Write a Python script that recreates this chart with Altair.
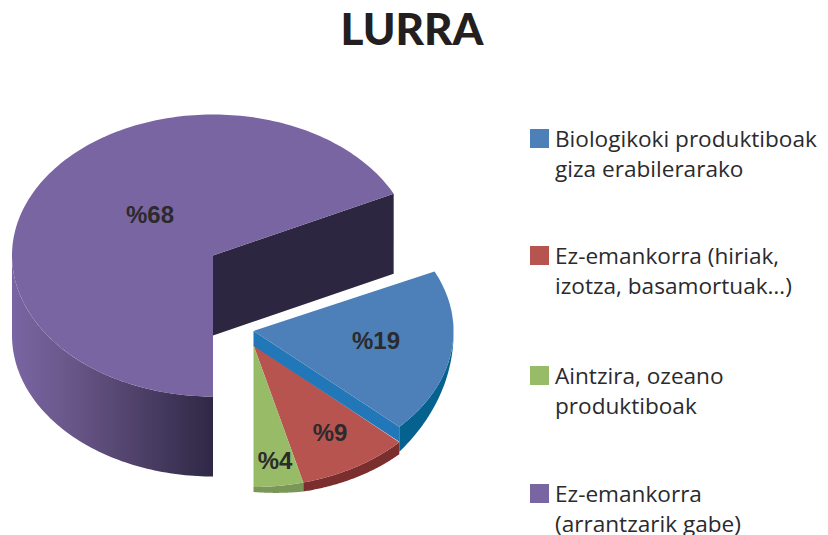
import math
import altair as alt

# ---- values ----
title = "LURRA"
shares = [68, 19, 9, 4]                     # purple, blue, red, green (clockwise from south)
value_labels = ["%68", "%19", "%9", "%4"]
top_colors = ["#7a65a3", "#4d80b8", "#b85450", "#98bb68"]
side_colors = ["#2f2845", "#05628f", "#7a2e2e", "#7a9658"]
wall_colors = ["#2d2640", "#2277b8"]
legend_lines = [
    ["Biologikoki produktiboak", "giza erabilerarako"],
    ["Ez-emankorra (hiriak,", "izotza, basamortuak…)"],
    ["Aintzira, ozeano", "produktiboak"],
    ["Ez-emankorra", "(arrantzarik gabe)"],
]
legend_order = [1, 2, 3, 0]
text_color = "#2b2a2c"

# pie geometry (page pixels)
RX, RY = 201, 141
BIG = (213, 255.5)
BIG_DEPTH = 80
SMALL = (253.5, 331)
SMALL_RY = 140
BAND = 14
SMALL_RY2 = 142
BLUE_DEPTH = (0, 25)
RED_DEPTH = (12, 9)
GREEN_DEPTH = (9, 5)
CUT_TWEAK = -0.8

# ---- geometry derived from the shares ----
def pt(c, rx, ry, a, dy=0):
    r = math.radians(a)
    return [c[0] - rx * math.sin(r), c[1] + ry * math.cos(r) + dy]

def arc(c, rx, ry, a0, a1, d0=0, d1=0, n=80):
    return [pt(c, rx, ry, a0 + (a1 - a0) * i / n, d0 + (d1 - d0) * i / n) for i in range(n + 1)]

def feat(coords, fill):
    ring = coords + [coords[0]]
    return {"type": "Feature", "properties": {"fill": fill},
            "geometry": {"type": "Polygon", "coordinates": [ring]}}

edges = [0]
for s in shares:
    edges.append(edges[-1] + s * 3.6)
a_p, a_b, a_r, a_g = edges[1], edges[2], edges[3], edges[4]
a_big = a_p + CUT_TWEAK

feats = []
# large slice: cut wall, then top
e = pt(BIG, RX, RY, a_big)
feats.append(feat([list(BIG), e, [e[0], e[1] + BIG_DEPTH], [BIG[0], BIG[1] + BIG_DEPTH]], wall_colors[0]))
big_side = arc(BIG, RX, RY, 0, 90) + arc(BIG, RX, RY, 90, 0, BIG_DEPTH, BIG_DEPTH)
big_top = [list(BIG)] + arc(BIG, RX, RY, 0, a_big, n=200)

# small slices
SMALL2 = (SMALL[0], SMALL[1] + BAND)
blue_start = a_b - 48
feats2 = []
feats2.append(feat(arc(SMALL, 200, SMALL_RY, blue_start, a_b) +
                   arc(SMALL, 200, SMALL_RY, a_b, blue_start, BLUE_DEPTH[1], BLUE_DEPTH[0]), side_colors[1]))
feats2.append(feat(arc(SMALL2, 200, SMALL_RY2, a_b, a_r) +
                   arc(SMALL2, 200, SMALL_RY2, a_r, a_b, RED_DEPTH[1], RED_DEPTH[0]), side_colors[2]))
feats2.append(feat(arc(SMALL2, 200, SMALL_RY2, a_r, a_g) +
                   arc(SMALL2, 200, SMALL_RY2, a_g, a_r, GREEN_DEPTH[1], GREEN_DEPTH[0]), side_colors[3]))
feats2.append(feat([list(SMALL2)] + arc(SMALL2, 200, SMALL_RY2, a_b, a_r), top_colors[2]))
feats2.append(feat([list(SMALL2)] + arc(SMALL2, 200, SMALL_RY2, a_r, a_g), top_colors[3]))
e = pt(SMALL, 200, SMALL_RY, a_b)
feats2.append(feat([list(SMALL), e, [e[0], e[1] + BAND + 0.8], [SMALL2[0], SMALL2[1] + 0.8]], wall_colors[1]))
feats2.append(feat([list(SMALL)] + arc(SMALL, 200, SMALL_RY, a_p, a_b), top_colors[1]))

proj = alt.Projection(type="identity", scale=1, translate=[-8, -8])
W, H = 812, 527
xs = alt.Scale(domain=[8, 8 + W], range=[0, W])
ys = alt.Scale(domain=[8, 8 + H], range=[0, H])

def shapes(features):
    return alt.Chart(alt.InlineData(values={"type": "FeatureCollection", "features": features},
                                    format=alt.DataFormat(property="features", type="json"))
                     ).mark_geoshape(strokeWidth=0).encode(
        color=alt.Color("properties.fill:N", scale=None)).project(**proj.to_dict())

side_fill = alt.Gradient(gradient="linear", x1=0, x2=1, y1=0, y2=0, stops=[
    alt.GradientStop(offset=0, color="#7a65a3"),
    alt.GradientStop(offset=0.3, color="#695688"),
    alt.GradientStop(offset=1, color=side_colors[0]),
])
side_layer = alt.Chart(alt.InlineData(values={"type": "FeatureCollection", "features": [feat(big_side, "x")]},
                                      format=alt.DataFormat(property="features", type="json"))
                       ).mark_geoshape(fill=side_fill, strokeWidth=0).project(**proj.to_dict())

# text tables
title_df = [{"t": title, "x": 412, "y": 45}]
val_xy = [(150, 216), (376, 342), (330, 434), (275, 462)]
val_df = [{"t": t, "x": p[0], "y": p[1]} for t, p in zip(value_labels, val_xy)]
legend_y = [147, 264, 384, 502]
line_gap = 30
legend_df, sq_df = [], []
for i, lines in enumerate(legend_lines):
    for j, l in enumerate(lines):
        legend_df.append({"t": l, "x": 555, "y": legend_y[i] + j * line_gap})
    sq_df.append({"x": 539.5, "y": legend_y[i] - 8.5, "c": top_colors[legend_order[i]]})

def X(): return alt.X("x:Q", scale=xs, axis=None)
def Y(): return alt.Y("y:Q", scale=ys, axis=None)

title_l = alt.Chart(alt.Data(values=title_df)).mark_text(
    font="Lato", fontWeight=900, fontSize=44, baseline="alphabetic",
    align="center", color="#231f20").encode(x=X(), y=Y(), text="t:N")
val_l = alt.Chart(alt.Data(values=val_df)).mark_text(
    font="Liberation Sans", fontWeight="bold", fontSize=24, baseline="middle",
    align="center", color=text_color).encode(x=X(), y=Y(), text="t:N")
leg_l = alt.Chart(alt.Data(values=legend_df)).mark_text(
    font="Open Sans", fontSize=22.6, baseline="alphabetic",
    align="left", color=text_color).encode(x=X(), y=Y(), text="t:N")
sq_l = alt.Chart(alt.Data(values=sq_df)).mark_square(size=361, opacity=1, strokeWidth=0).encode(
    x=X(), y=Y(), color=alt.Color("c:N", scale=None))

chart = alt.layer(
    shapes(feats),
    side_layer,
    shapes([feat(big_top, top_colors[0])]),
    shapes(feats2),
    title_l, val_l, sq_l, leg_l,
).properties(width=W, height=H, padding=0, background="white",
             autosize=alt.AutoSizeParams(type="none")
).configure_view(stroke=None)

chart.save("out.html", embed_options={"renderer": "svg", "actions": False})
